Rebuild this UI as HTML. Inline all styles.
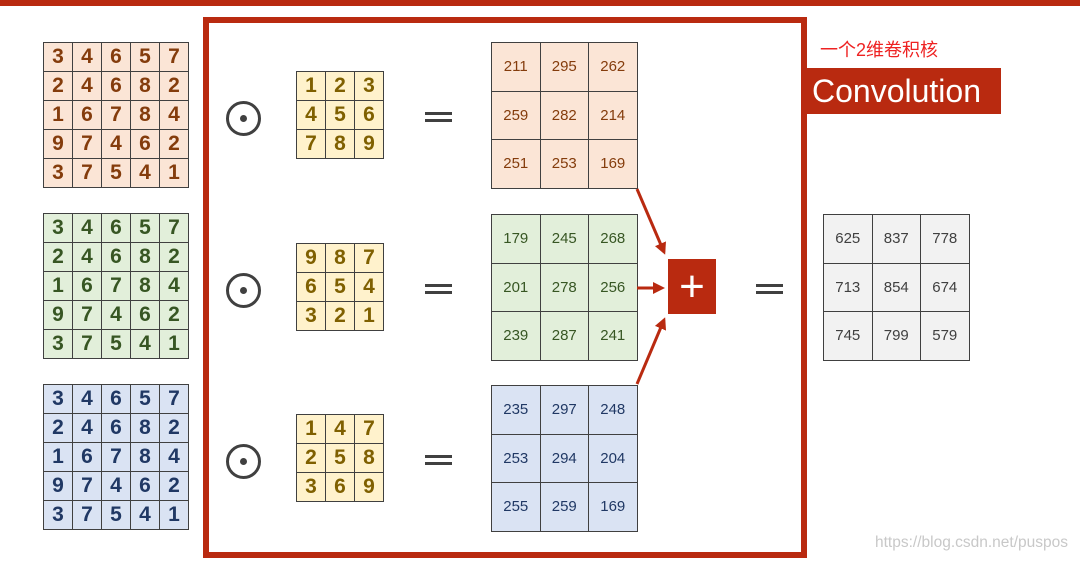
<!DOCTYPE html>
<html><head><meta charset="utf-8"><style>
body{margin:0;width:1080px;height:561px;background:#fff;position:relative;overflow:hidden;font-family:"Liberation Sans",sans-serif}
.a{position:absolute}
table{position:absolute;border-collapse:collapse;table-layout:fixed}
td{border:1.5px solid #404040;text-align:center;padding:0}
.b td{width:28px;height:28px;font-size:21px;font-weight:bold}
.k td{width:28px;height:28px;font-size:21px;font-weight:bold;background:#fff2cc;color:#7f6000}
.r td{width:47.5px;height:47.5px;font-size:15px}
.o td{background:#fbe5d6;color:#843c0c}
.g td{background:#e2efda;color:#375623}
.u td{background:#dae3f3;color:#203864}
.y td{background:#f2f2f2;color:#404040}
.dot{position:absolute;width:29px;height:29px;border:3px solid #404040;border-radius:50%}
.dot:after{content:"";position:absolute;left:11px;top:11px;width:7px;height:7px;border-radius:50%;background:#404040}
.eq{position:absolute;width:27px;height:4px;border-top:3.5px solid #404040;border-bottom:3.5px solid #404040}
</style></head><body>
<div class="a" style="left:0;top:0;width:1080px;height:6px;background:#b92a10"></div>
<div class="a" style="left:203px;top:17px;width:592px;height:529px;border:6px solid #b92a10"></div>

<table class="b o" style="left:43px;top:42px"><tr><td>3</td><td>4</td><td>6</td><td>5</td><td>7</td></tr><tr><td>2</td><td>4</td><td>6</td><td>8</td><td>2</td></tr><tr><td>1</td><td>6</td><td>7</td><td>8</td><td>4</td></tr><tr><td>9</td><td>7</td><td>4</td><td>6</td><td>2</td></tr><tr><td>3</td><td>7</td><td>5</td><td>4</td><td>1</td></tr></table>
<table class="b g" style="left:43px;top:213px"><tr><td>3</td><td>4</td><td>6</td><td>5</td><td>7</td></tr><tr><td>2</td><td>4</td><td>6</td><td>8</td><td>2</td></tr><tr><td>1</td><td>6</td><td>7</td><td>8</td><td>4</td></tr><tr><td>9</td><td>7</td><td>4</td><td>6</td><td>2</td></tr><tr><td>3</td><td>7</td><td>5</td><td>4</td><td>1</td></tr></table>
<table class="b u" style="left:43px;top:384px"><tr><td>3</td><td>4</td><td>6</td><td>5</td><td>7</td></tr><tr><td>2</td><td>4</td><td>6</td><td>8</td><td>2</td></tr><tr><td>1</td><td>6</td><td>7</td><td>8</td><td>4</td></tr><tr><td>9</td><td>7</td><td>4</td><td>6</td><td>2</td></tr><tr><td>3</td><td>7</td><td>5</td><td>4</td><td>1</td></tr></table>

<div class="dot" style="left:226px;top:101px"></div>
<div class="dot" style="left:226px;top:273px"></div>
<div class="dot" style="left:226px;top:444px"></div>

<table class="k" style="left:296px;top:71px"><tr><td>1</td><td>2</td><td>3</td></tr><tr><td>4</td><td>5</td><td>6</td></tr><tr><td>7</td><td>8</td><td>9</td></tr></table>
<table class="k" style="left:296px;top:243px"><tr><td>9</td><td>8</td><td>7</td></tr><tr><td>6</td><td>5</td><td>4</td></tr><tr><td>3</td><td>2</td><td>1</td></tr></table>
<table class="k" style="left:296px;top:414px"><tr><td>1</td><td>4</td><td>7</td></tr><tr><td>2</td><td>5</td><td>8</td></tr><tr><td>3</td><td>6</td><td>9</td></tr></table>

<div class="eq" style="left:425px;top:112px"></div>
<div class="eq" style="left:425px;top:284px"></div>
<div class="eq" style="left:425px;top:455px"></div>
<div class="eq" style="left:756px;top:284px"></div>

<table class="r o" style="left:491px;top:42px"><tr><td>211</td><td>295</td><td>262</td></tr><tr><td>259</td><td>282</td><td>214</td></tr><tr><td>251</td><td>253</td><td>169</td></tr></table>
<table class="r g" style="left:491px;top:214px"><tr><td>179</td><td>245</td><td>268</td></tr><tr><td>201</td><td>278</td><td>256</td></tr><tr><td>239</td><td>287</td><td>241</td></tr></table>
<table class="r u" style="left:491px;top:385px"><tr><td>235</td><td>297</td><td>248</td></tr><tr><td>253</td><td>294</td><td>204</td></tr><tr><td>255</td><td>259</td><td>169</td></tr></table>
<table class="r y" style="left:823px;top:214px"><tr><td>625</td><td>837</td><td>778</td></tr><tr><td>713</td><td>854</td><td>674</td></tr><tr><td>745</td><td>799</td><td>579</td></tr></table>

<svg class="a" style="left:0;top:0" width="1080" height="561">
<defs><marker id="m" markerWidth="4" markerHeight="4" refX="3" refY="2" orient="auto"><path d="M0,0L4,2L0,4z" fill="#b92a10"/></marker></defs>
<g stroke="#b92a10" stroke-width="3" marker-end="url(#m)">
<line x1="637" y1="189" x2="664" y2="252"/>
<line x1="637" y1="288" x2="662" y2="288"/>
<line x1="637" y1="384" x2="664" y2="320"/>
</g>
</svg>
<div class="a" style="left:668px;top:259px;width:48px;height:55px;background:#b92a10;color:#fff;font-size:44px;line-height:55px;text-align:center">+</div>

<div class="a" style="left:820px;top:36px;color:#ee2222;font-size:18px;font-family:'Liberation Sans','Noto Sans CJK SC',sans-serif">一个2维卷积核</div>
<div class="a" style="left:805px;top:68px;width:196px;height:46px;background:#b92a10;color:#fff;font-size:32px;line-height:46px;padding-left:7px;box-sizing:border-box;white-space:nowrap">Convolution</div>
<div class="a" style="left:875px;top:534px;color:#c8c8c8;font-size:15.5px">https://blog.csdn.net/puspos</div>
</body></html>
